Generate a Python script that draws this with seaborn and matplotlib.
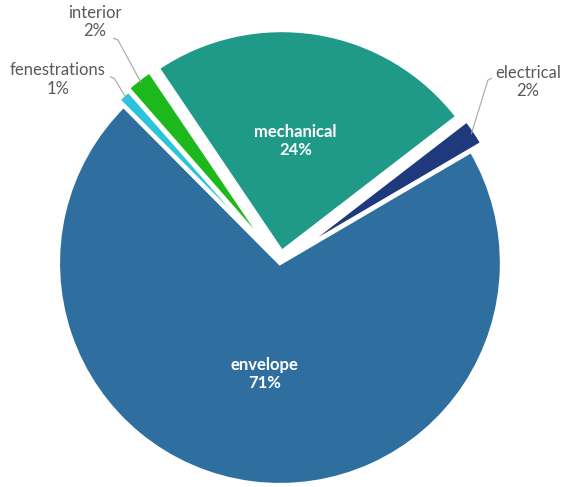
import numpy as np
import matplotlib
matplotlib.use("Agg")
import matplotlib.pyplot as plt
import seaborn as sns

# Share of cost by building system
categories = ["mechanical", "electrical", "envelope", "fenestrations", "interior"]
shares = [24, 2, 71, 1, 2]
colors = ["#1f9a88", "#1f3a7c", "#2e6f9f", "#2cc3dc", "#1cb81c"]
explode = [0.05, 0.06, 0.0, 0.035, 0.045]

sns.set_theme(style="white")
plt.rcParams["font.family"] = ["Lato", "DejaVu Sans"]

fig = plt.figure(figsize=(5.65, 4.87), dpi=100)
ax = fig.add_axes([0, 0, 1, 1])

wedges, _ = ax.pie(
    shares,
    colors=colors,
    explode=explode,
    startangle=124,
    counterclock=False,
    radius=1.0,
    wedgeprops=dict(edgecolor="white", linewidth=3.0),
)

ax.set_xlim(-1.261, 1.284)
ax.set_ylim(-1.009, 1.185)
ax.set_aspect("equal")
ax.axis("off")


def mid_point(i, r):
    w = wedges[i]
    ang = np.deg2rad((w.theta1 + w.theta2) / 2)
    cx, cy = w.center
    return cx + r * np.cos(ang), cy + r * np.sin(ang)


# Labels inside the large slices
inside = {0: (0.07, 0.55), 2: (-0.07, -0.50)}
for i, (x, y) in inside.items():
    ax.text(x, y, f"{categories[i]}\n{shares[i]}%", ha="center", va="center",
            color="white", fontsize=12, fontweight="bold", linespacing=1.2)

# Labels outside the thin slices, with leader lines
gray = "#595959"
line_gray = "#a6a6a6"
outside = {
    4: dict(text=(-0.833, 1.086), elbow=[(-0.752, 1.013), (-0.730, 1.005)]),
    3: dict(text=(-1.000, 0.826), elbow=[(-0.766, 0.840), (-0.745, 0.830)]),
    1: dict(text=(1.117, 0.815), elbow=[(0.955, 0.833), (0.937, 0.824)]),
}
for i, spec in outside.items():
    tx, ty = spec["text"]
    ax.text(tx, ty, f"{categories[i]}\n{shares[i]}%", ha="center", va="center",
            color=gray, fontsize=12, linespacing=1.2)
    end = mid_point(i, 0.98)
    pts = spec["elbow"] + [end]
    ax.plot([p[0] for p in pts], [p[1] for p in pts], color=line_gray, lw=0.8,
            solid_capstyle="butt")

fig.savefig("out.png", dpi=100)
